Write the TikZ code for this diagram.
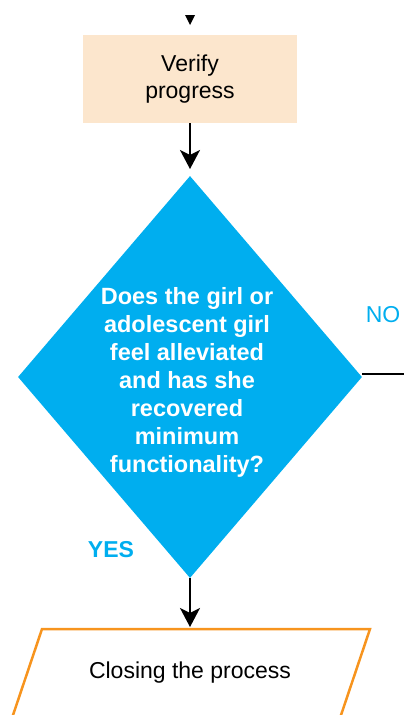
\documentclass[tikz,border=0pt]{standalone}
\usepackage{fontspec}
\setmainfont{Liberation Sans}
\usetikzlibrary{shapes.geometric,arrows.meta}
\definecolor{peach}{HTML}{FCE6CD}
\definecolor{cyanblue}{HTML}{00AEEF}
\definecolor{orangeline}{HTML}{F7941E}
\tikzset{
  flow/.style={draw=black, line width=2pt, -{Stealth[width=20pt,length=19pt,inset=5pt]}},
  lbl/.style={font=\fontsize{23}{27}\selectfont, align=center, inner sep=0pt},
}
\begin{document}
\begin{tikzpicture}[x=1pt,y=1pt]
\useasboundingbox (0,0) rectangle (404,-715);
\clip (0,0) rectangle (404,-715);

% incoming tip
\fill (185,-15) -- (195,-15) -- (190,-25) -- cycle;

% verify step
\node[fill=peach, minimum width=214pt, minimum height=88pt, inner sep=0pt] (verify) at (190,-79) {};
\node[lbl] (verifytxt) at (190,-79) {Verify\\progress};

% decision
\node[diamond, fill=cyanblue, minimum width=344pt, minimum height=402pt, inner sep=0pt] (decision) at (190,-377) {};
\node[lbl, text=white, font=\bfseries\fontsize{23.5}{28}\selectfont] (question) at (187,-382)
  {Does the girl or\\adolescent girl\\feel alleviated\\and has she\\recovered\\minimum\\functionality?};

% NO branch
\coordinate (noend) at (404,-374);
\draw[line width=1.3pt] (decision.east |- noend) -- (noend);
\node[lbl, text=cyanblue] (no) at (383,-315) {NO};

% YES label
\node[lbl, text=cyanblue, font=\bfseries\fontsize{23}{27}\selectfont] (yes) at (111,-550) {YES};

% closing step
\coordinate (pTL) at (42,-629);
\coordinate (pTR) at (370,-629);
\coordinate (pBR) at (336,-730);
\coordinate (pBL) at (8,-730);
\draw[orangeline, line width=2.5pt, line join=miter] (pBL) -- (pTL) -- (pTR) -- (pBR);
\node[lbl] (closing) at (190,-673) {Closing the process};

% connectors
\coordinate (in1) at (190,-169);
\coordinate (in2) at (190,-627);
\draw[flow] (verify.south) -- (in1);
\draw[flow] (decision.south) -- (in2);
\end{tikzpicture}
\end{document}
